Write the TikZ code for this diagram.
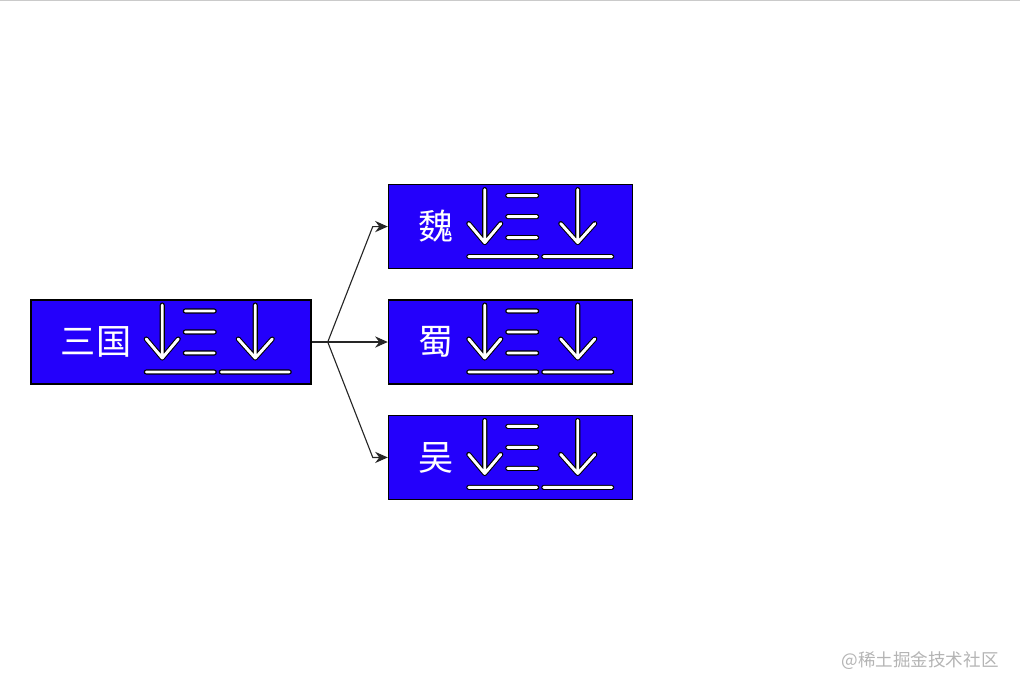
\documentclass[tikz,border=0pt]{standalone}
\usepackage{fontspec}
\usepackage{tikz}
\usetikzlibrary{arrows.meta, positioning, calc}
\newfontfamily\cjk{Noto Sans CJK SC}
\definecolor{kingdom}{HTML}{2400FB}
\definecolor{mark}{HTML}{B4B4B4}

\tikzset{
    realm/.style={draw=black, line width=1pt, fill=kingdom, text=white,
        align=left, inner xsep=0.75cm, inner ysep=0pt, minimum height=2.1cm,
        text height=1.92em, text depth=0.12em,
        font=\cjk\fontsize{25}{25}\selectfont},
    link/.style={draw=black!85, line width=0.8pt},
    sorticons/.pic={
        \foreach \c/\w in {black/3.6pt, white/2.1pt}
        {
            \draw[\c, line width=\w, line cap=round, line join=round]
                (16,-37) -- (16,16)  (0,-3) -- (16,16) -- (32,-3)
                (39,-31) -- (68,-31)  (39,-10) -- (68,-10)  (39,11) -- (68,11)
                (109,-37) -- (109,16)  (92,-3) -- (109,16) -- (126,-3)
                (0,30) -- (68,30)  (75,30) -- (143,30);
        }
    }
}

\begin{document}
\begin{tikzpicture}[x=0.025cm, y=-0.025cm]

    \useasboundingbox (0,0) rectangle (1020,691);
    \draw[mark!70, line width=1pt] (0,0.5) -- (1020,0.5);

    \node[realm, text width=5.5cm] (root) at (171,342) {三国};
    \node[realm, text width=4.6cm, right=1.9cm of root] (shu) {蜀};
    \node[realm, text width=4.6cm, above=0.75cm of shu] (wei) {魏};
    \node[realm, text width=4.6cm, below=0.75cm of shu] (wu) {吴};

    \pic at ($(root.west)+(116,0)$) {sorticons};
    \foreach \k in {wei, shu, wu}
        \pic at ($(\k.west)+(81,0)$) {sorticons};

    \coordinate (split) at ($(root.east)+(16,0)$);
    \draw[link] (root.east) -- (split);
    \draw[link, -{Stealth[length=9pt, width=8pt, inset=3pt]}] (split) -- (shu.west);
    \foreach \k in {wei, wu}
        \draw[link, -{Stealth[length=9pt, width=8pt, inset=3pt]}]
            (split) -- ($(\k.west)+(-15,0)$) -- (\k.west);

    \node[text=mark, font=\cjk\fontsize{12.5}{12.5}\selectfont] (credit) at (920,661) {@稀土掘金技术社区};

\end{tikzpicture}
\end{document}
